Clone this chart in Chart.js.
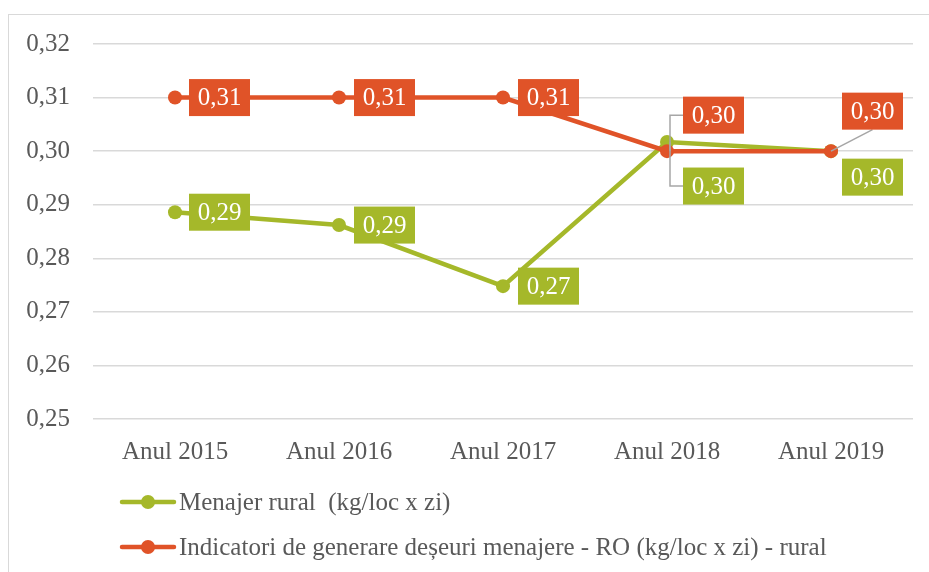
<!DOCTYPE html>
<html>
<head>
<meta charset="utf-8">
<script src="https://cdn.jsdelivr.net/npm/chart.js@4.4.1/dist/chart.umd.min.js"></script>
<style>
  body { margin: 0; background: #fff; }
  #wrap { position: relative; width: 929px; height: 572px; overflow: hidden; }
  #frame { position: absolute; left: 8px; top: 14px; width: 1000px; height: 1000px; border: 1.5px solid #d9d9d9; }
  canvas { position: absolute; left: 0; top: 0; }
</style>
</head>
<body>
<div id="wrap">
  <div id="frame"></div>
  <canvas id="chart" width="929" height="572"></canvas>
</div>
<script>
  var years = ['Anul 2015', 'Anul 2016', 'Anul 2017', 'Anul 2018', 'Anul 2019'];
  var menajerRural = [0.2886, 0.2862, 0.2748, 0.3017, 0.3000];
  var indicatoriRO = [0.31, 0.31, 0.31, 0.30, 0.30];
  var yTicks = [0.25, 0.26, 0.27, 0.28, 0.29, 0.30, 0.31, 0.32];

  var GREEN = '#A5B82A';
  var ORANGE = '#E05328';
  var TEXT = '#595959';
  var FONT = '"Liberation Serif", "Times New Roman", serif';

  function fmt(v) { return v.toFixed(2).replace('.', ','); }

  // where each value box sits relative to its point (dataset order: green, orange)
  var labelPlacement = [
    [{ dx: 14, dy: 0 }, { dx: 15, dy: 0 }, { dx: 15, dy: 0 }, { dx: 16, dy: 44, leader: 'bracket' }, { dx: 11, dy: 26 }],
    [{ dx: 14, dy: 0 }, { dx: 15, dy: 0 }, { dx: 15, dy: 0 }, { dx: 16, dy: -36, leader: 'bracket' }, { dx: 11, dy: -40, leader: 'diag' }]
  ];

  var valueLabels = {
    id: 'valueLabels',
    afterDatasetsDraw: function (chart) {
      var ctx = chart.ctx;
      ctx.save();
      ctx.font = '25px ' + FONT;
      chart.data.datasets.forEach(function (ds, di) {
        var meta = chart.getDatasetMeta(di);
        meta.data.forEach(function (pt, i) {
          var pl = labelPlacement[di][i];
          var txt = fmt(ds.data[i]);
          var w = 61;
          var h = 37;
          var left = pt.x + pl.dx;
          var cy = pt.y + pl.dy;
          if (pl.leader) {
            ctx.strokeStyle = '#A6A6A6';
            ctx.lineWidth = 1.5;
            ctx.beginPath();
            if (pl.leader === 'bracket') {
              ctx.moveTo(left, cy);
              ctx.lineTo(pt.x + 3, cy);
              ctx.lineTo(pt.x + 3, pt.y);
            } else {
              ctx.moveTo(left + w / 2, cy + h / 2);
              ctx.lineTo(pt.x, pt.y);
            }
            ctx.stroke();
          }
          ctx.fillStyle = ds.borderColor;
          ctx.fillRect(left, cy - h / 2, w, h);
          ctx.fillStyle = '#fff';
          ctx.textAlign = 'center';
          ctx.textBaseline = 'middle';
          ctx.fillText(txt, left + w / 2, cy + 1);
        });
      });
      ctx.restore();
    }
  };

  var stackedLegend = {
    id: 'stackedLegend',
    afterDraw: function (chart) {
      var ctx = chart.ctx;
      ctx.save();
      ctx.font = '25px ' + FONT;
      chart.data.datasets.forEach(function (ds, di) {
        var y = 502 + di * 45;
        ctx.strokeStyle = ds.borderColor;
        ctx.lineWidth = 4.5;
        ctx.lineCap = 'round';
        ctx.beginPath();
        ctx.moveTo(122, y);
        ctx.lineTo(174, y);
        ctx.stroke();
        ctx.fillStyle = ds.borderColor;
        ctx.beginPath();
        ctx.arc(148, y, 7, 0, Math.PI * 2);
        ctx.fill();
        ctx.fillStyle = TEXT;
        ctx.textAlign = 'left';
        ctx.textBaseline = 'middle';
        ctx.fillText(ds.label, 179, y + 1);
      });
      ctx.restore();
    }
  };

  new Chart(document.getElementById('chart').getContext('2d'), {
    type: 'line',
    data: {
      labels: years,
      datasets: [{
        label: 'Menajer rural  (kg/loc x zi)',
        data: menajerRural,
        borderColor: GREEN,
        backgroundColor: GREEN,
        borderWidth: 4.5,
        pointRadius: 7,
        pointHoverRadius: 7,
        pointBorderWidth: 0,
        order: 1
      }, {
        label: 'Indicatori de generare deșeuri menajere - RO (kg/loc x zi) - rural',
        data: indicatoriRO,
        borderColor: ORANGE,
        backgroundColor: ORANGE,
        borderWidth: 4.5,
        pointRadius: 7,
        pointHoverRadius: 7,
        pointBorderWidth: 0,
        order: 0
      }]
    },
    options: {
      responsive: false,
      animation: false,
      devicePixelRatio: 1,
      layout: { padding: { left: 0, top: 44, right: 16, bottom: 93 } },
      plugins: {
        legend: { display: false },
        tooltip: { enabled: false }
      },
      scales: {
        x: {
          offset: true,
          grid: { display: false },
          border: { display: false },
          ticks: { color: TEXT, font: { family: FONT, size: 25 }, padding: 10 },
          afterFit: function (s) { s.height = 60; }
        },
        y: {
          min: yTicks[0],
          max: yTicks[yTicks.length - 1],
          afterBuildTicks: function (s) { s.ticks = yTicks.map(function (v) { return { value: v }; }); },
          grid: { color: '#D9D9D9', lineWidth: 1.5, drawTicks: false },
          border: { display: false },
          ticks: {
            color: TEXT,
            font: { family: FONT, size: 25 },
            padding: 23,
            callback: function (v) { return fmt(v); }
          },
          afterFit: function (s) { s.width = 93; }
        }
      }
    },
    plugins: [valueLabels, stackedLegend]
  });
</script>
</body>
</html>
